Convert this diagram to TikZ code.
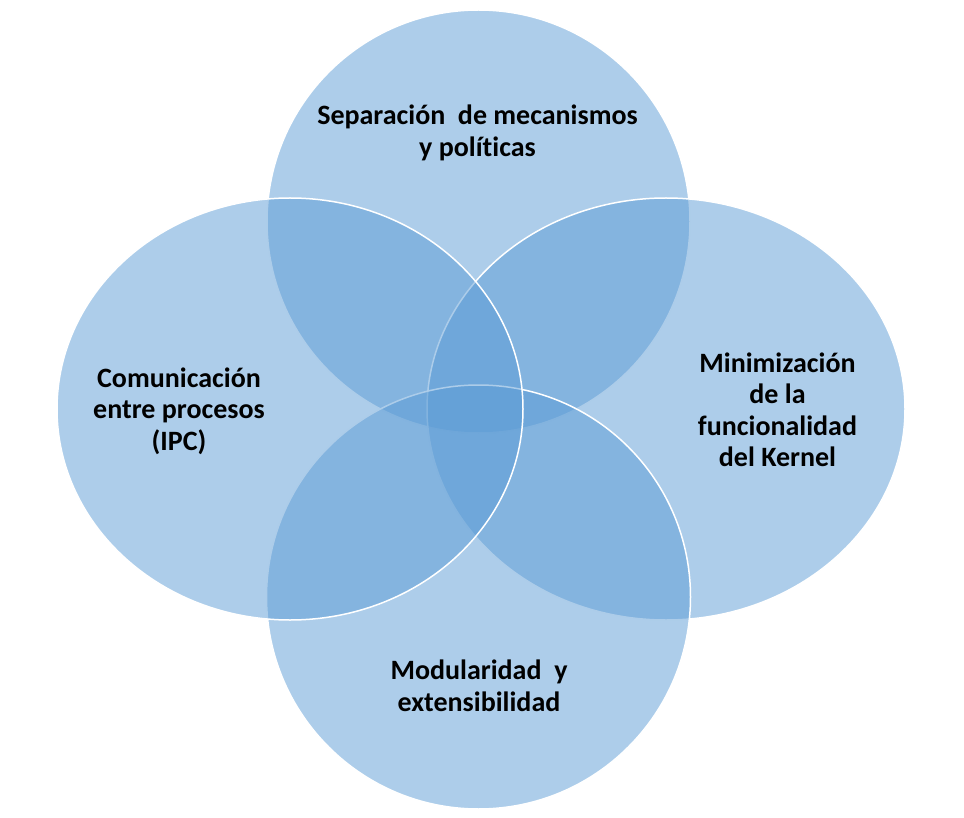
\documentclass[tikz,border=0pt]{standalone}
\usepackage{fontspec}
\setmainfont{Carlito}[Ligatures=NoCommon]
\usetikzlibrary{positioning}

\definecolor{lobeblue}{HTML}{5B9BD5}

\begin{document}
\begin{tikzpicture}[x=1pt, y=-1pt,
        lobe/.style={fill=lobeblue, fill opacity=0.5, draw=white, line width=1.5pt},
        lbl/.style={align=center, font=\bfseries\fontsize{28}{31.5}\selectfont, text=black, inner sep=0pt}]
        \useasboundingbox (0, 0) rectangle (964, 818);

        % lobes, in the order they overlap
        \draw[lobe] (478.5, 221.5) circle (211.5pt);
        \draw[lobe] (666, 409) ellipse (239pt and 211pt);
        \draw[lobe] (478.5, 597) circle (212pt);
        \draw[lobe] (290, 409) ellipse (233pt and 211pt);

        \node[lbl] (sep) at (477.5, 133) {Separación \ de mecanismos\\y políticas};
        \node[lbl] (ipc) at (179, 411) {Comunicación\\entre procesos\\(IPC)};
        \node[lbl] (kern) at (777.5, 410) {Minimización\\de la\\funcionalidad\\del Kernel};
        \node[lbl] (mod) at (479, 686) {Modularidad \ y\\extensibilidad};
      \end{tikzpicture}
\end{document}
